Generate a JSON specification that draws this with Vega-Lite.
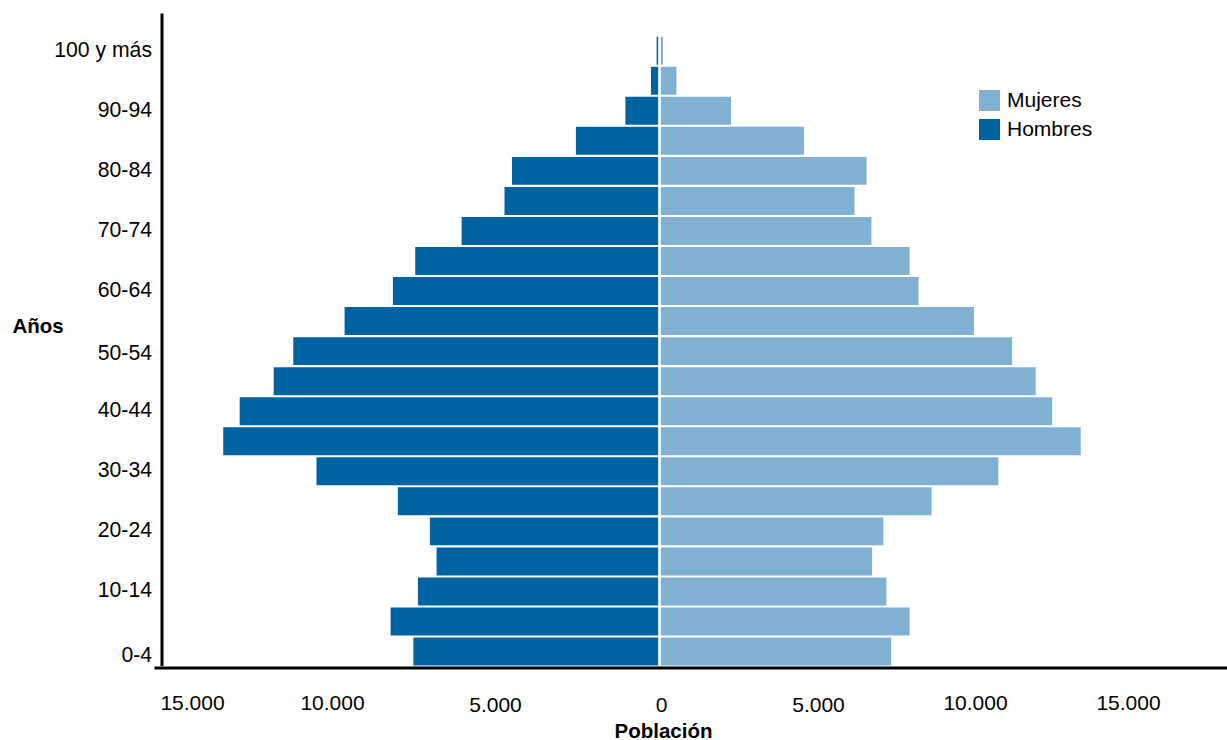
{
  "$schema": "https://vega.github.io/schema/vega-lite/v6.json",
  "width": 1073,
  "height": 652.5,
  "autosize": {"type": "none"},
  "padding": {"left": 154, "top": 13, "right": 0, "bottom": 74.5},
  "background": "white",
  "config": {"view": {"stroke": null}, "font": "Liberation Sans"},
  "data": {
    "values": [
      {"edad": "100 y más", "sexo": "Hombres", "poblacion": -90},
      {"edad": "100 y más", "sexo": "Mujeres", "poblacion": 110},
      {"edad": "95-99", "sexo": "Hombres", "poblacion": -266},
      {"edad": "95-99", "sexo": "Mujeres", "poblacion": 530},
      {"edad": "90-94", "sexo": "Hombres", "poblacion": -1066},
      {"edad": "90-94", "sexo": "Mujeres", "poblacion": 2234},
      {"edad": "85-89", "sexo": "Hombres", "poblacion": -2613},
      {"edad": "85-89", "sexo": "Mujeres", "poblacion": 4516},
      {"edad": "80-84", "sexo": "Hombres", "poblacion": -4609},
      {"edad": "80-84", "sexo": "Mujeres", "poblacion": 6469},
      {"edad": "75-79", "sexo": "Hombres", "poblacion": -4844},
      {"edad": "75-79", "sexo": "Mujeres", "poblacion": 6094},
      {"edad": "70-74", "sexo": "Hombres", "poblacion": -6184},
      {"edad": "70-74", "sexo": "Mujeres", "poblacion": 6622},
      {"edad": "65-69", "sexo": "Hombres", "poblacion": -7634},
      {"edad": "65-69", "sexo": "Mujeres", "poblacion": 7816},
      {"edad": "60-64", "sexo": "Hombres", "poblacion": -8331},
      {"edad": "60-64", "sexo": "Mujeres", "poblacion": 8094},
      {"edad": "55-59", "sexo": "Hombres", "poblacion": -9841},
      {"edad": "55-59", "sexo": "Mujeres", "poblacion": 9828},
      {"edad": "50-54", "sexo": "Hombres", "poblacion": -11444},
      {"edad": "50-54", "sexo": "Mujeres", "poblacion": 11019},
      {"edad": "45-49", "sexo": "Hombres", "poblacion": -12056},
      {"edad": "45-49", "sexo": "Mujeres", "poblacion": 11756},
      {"edad": "40-44", "sexo": "Hombres", "poblacion": -13119},
      {"edad": "40-44", "sexo": "Mujeres", "poblacion": 12272},
      {"edad": "35-39", "sexo": "Hombres", "poblacion": -13634},
      {"edad": "35-39", "sexo": "Mujeres", "poblacion": 13163},
      {"edad": "30-34", "sexo": "Hombres", "poblacion": -10719},
      {"edad": "30-34", "sexo": "Mujeres", "poblacion": 10588},
      {"edad": "25-29", "sexo": "Hombres", "poblacion": -8178},
      {"edad": "25-29", "sexo": "Mujeres", "poblacion": 8503},
      {"edad": "20-24", "sexo": "Hombres", "poblacion": -7175},
      {"edad": "20-24", "sexo": "Mujeres", "poblacion": 6997},
      {"edad": "15-19", "sexo": "Hombres", "poblacion": -6966},
      {"edad": "15-19", "sexo": "Mujeres", "poblacion": 6644},
      {"edad": "10-14", "sexo": "Hombres", "poblacion": -7550},
      {"edad": "10-14", "sexo": "Mujeres", "poblacion": 7091},
      {"edad": "5-9", "sexo": "Hombres", "poblacion": -8403},
      {"edad": "5-9", "sexo": "Mujeres", "poblacion": 7816},
      {"edad": "0-4", "sexo": "Hombres", "poblacion": -7691},
      {"edad": "0-4", "sexo": "Mujeres", "poblacion": 7241}
    ]
  },
  "layer": [
    {
      "mark": {"type": "bar"},
      "encoding": {
        "y": {
          "field": "edad",
          "type": "nominal",
          "scale": {
            "domain": ["100 y más", "95-99", "90-94", "85-89", "80-84", "75-79", "70-74", "65-69", "60-64", "55-59", "50-54", "45-49", "40-44", "35-39", "30-34", "25-29", "20-24", "15-19", "10-14", "5-9", "0-4"],
            "paddingInner": 0.07,
            "paddingOuter": 0.395,
            "align": 1,
            "round": false
          },
          "axis": {
            "values": ["100 y más", "90-94", "80-84", "70-74", "60-64", "50-54", "40-44", "30-34", "20-24", "10-14", "0-4"],
            "title": "Años",
            "titleAngle": 0,
            "titleFontWeight": "bold",
            "titleFontSize": 20.5,
            "titleColor": "black",
            "titleAlign": "left",
            "titleBaseline": "middle",
            "titleX": -149.5,
            "titleY": 313,
            "ticks": false,
            "grid": false,
            "labelFontSize": 21.2,
            "labelColor": "black",
            "labelPadding": 10,
            "labelOverlap": false,
            "labelOffset": {"expr": "datum.value == '0-4' ? 4 : datum.value == '50-54' ? 3 : 0"},
            "domainColor": "black",
            "domainWidth": 3,
            "offset": -7.5,
            "zindex": 1
          }
        },
        "x": {
          "field": "poblacion",
          "type": "quantitative",
          "scale": {"domain": [-15796.875, 17734.375], "nice": false, "zero": false},
          "axis": {
            "values": [-15000, -10000, -5000, 0, 5000, 10000, 15000],
            "labelExpr": "replace(format(abs(datum.value), ','), ',', '.')",
            "title": "Población",
            "titleFontWeight": "bold",
            "titleFontSize": 20.5,
            "titleColor": "black",
            "titleX": 509,
            "titleY": 63.5,
            "titleAlign": "center",
            "titleBaseline": "middle",
            "ticks": false,
            "grid": false,
            "labelFontSize": 21,
            "labelColor": "black",
            "labelBaseline": "middle",
            "labelFlush": false,
            "labelOverlap": false,
            "labelPadding": {"expr": "abs(datum.value) >= 10000 ? 35.5 : 37.5"},
            "labelOffset": {"expr": "datum.value == -15000 ? 12.5 : datum.value == -10000 ? -7.5 : datum.value == -5000 ? -4.5 : datum.value == 0 ? 1.5 : datum.value == 5000 ? -1.5 : datum.value == 10000 ? -4.5 : -11.5"},
            "domainColor": "black",
            "domainWidth": 3,
            "offset": 2,
            "zindex": 1
          }
        },
        "color": {
          "field": "sexo",
          "type": "nominal",
          "scale": {"domain": ["Mujeres", "Hombres"], "range": ["#80b1d3", "#0063a1"]},
          "legend": {
            "orient": "none",
            "legendX": 825,
            "legendY": 77,
            "title": null,
            "symbolType": "square",
            "symbolSize": 441,
            "symbolStrokeWidth": 0,
            "labelFontSize": 21,
            "labelColor": "black",
            "labelOffset": 7,
            "rowPadding": 7,
            "padding": 0
          }
        }
      }
    },
    {
      "data": {"values": [{"cero": 0}]},
      "mark": {"type": "rule", "color": "white", "strokeWidth": 2.7},
      "encoding": {"x": {"field": "cero", "type": "quantitative"}}
    }
  ]
}
